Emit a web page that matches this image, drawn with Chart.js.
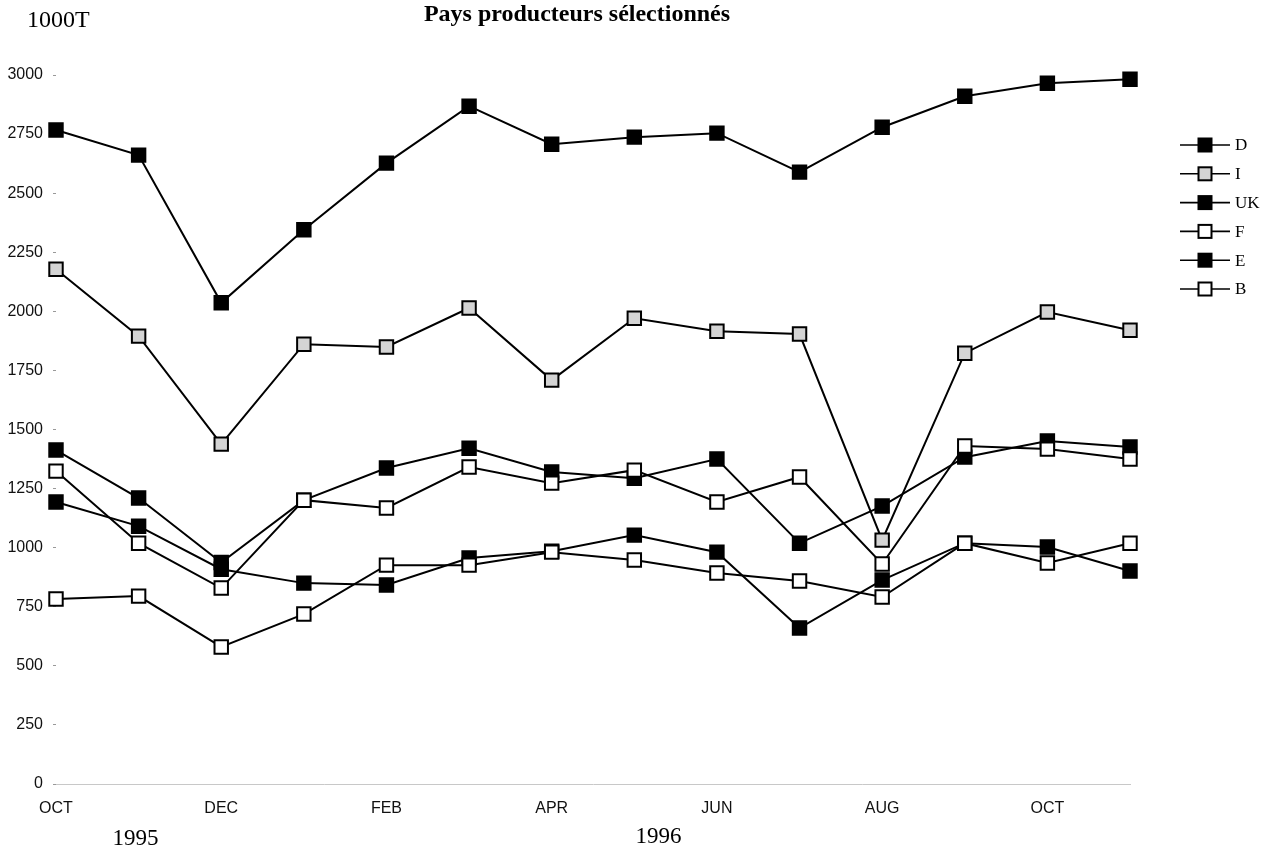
<!DOCTYPE html>
<html>
<head>
<meta charset="utf-8">
<script src="https://cdn.jsdelivr.net/npm/chart.js@4.4.0/dist/chart.umd.min.js"></script>
<style>
  html, body { margin: 0; padding: 0; background: #fff; }
  #wrap { width: 1271px; height: 852px; position: relative; }
</style>
</head>
<body>
<div id="wrap"><canvas id="c" width="1271" height="852"></canvas></div>
<script>
// ---- Data ----
const months = ['OCT','NOV','DEC','JAN','FEB','MAR','APR','MAY','JUN','JUL','AUG','SEP','OCT','NOV'];
const yearLabels = ['1995', '1996'];
const seriesNames = ['D', 'I', 'UK', 'F', 'E', 'B'];
const yTicks = [0, 250, 500, 750, 1000, 1250, 1500, 1750, 2000, 2250, 2500, 2750, 3000];
const unitLabel = '1000T';
const titleText = 'Pays producteurs sélectionnés';

const D  = [2767, 2661, 2036, 2345, 2627, 2868, 2707, 2737, 2754, 2589, 2779, 2910, 2965, 2982];
const I  = [2178, 1895, 1438, 1861, 1849, 2014, 1709, 1971, 1916, 1904, 1032, 1823, 1997, 1920];
const UK = [1413, 1210,  937, 1201, 1337, 1421, 1320, 1294, 1375, 1019, 1176, 1383, 1451, 1426];
const F  = [1324, 1019,  829, 1201, 1168, 1341, 1273, 1328, 1193, 1299,  931, 1430, 1417, 1375];
const E  = [1193, 1091,  909,  850,  842,  956,  985, 1053,  981,  660,  863, 1019, 1003,  901];
const B  = [ 783,  795,  580,  719,  926,  926,  981,  948,  893,  859,  791, 1019,  935, 1019];

// ---- Styles ----
const fills = { D: '#000', I: '#d4d4d4', UK: '#000', F: '#fff', E: '#000', B: '#fff' };
const orders = { D: 1, I: 0, UK: 1, F: 0, E: 1, B: 0 };
const values = { D, I, UK, F, E, B };

const datasets = seriesNames.map(name => ({
  label: name,
  data: values[name],
  borderColor: '#000',
  borderWidth: 2,
  backgroundColor: fills[name],
  pointStyle: 'rect',
  pointRadius: 9.5,
  pointHoverRadius: 9.5,
  pointBackgroundColor: fills[name],
  pointBorderColor: '#000',
  pointBorderWidth: 2,
  tension: 0,
  fill: false,
  clip: false,
  order: orders[name]
}));

const decorPlugin = {
  id: 'decor',
  afterDraw(chart) {
    const ctx = chart.ctx;
    const xs = chart.scales.x;
    ctx.save();
    ctx.fillStyle = '#000';
    // Title
    ctx.font = 'bold 24px "Liberation Serif", "DejaVu Serif", serif';
    ctx.textAlign = 'center';
    ctx.textBaseline = 'alphabetic';
    ctx.fillText(titleText, 577, 21);
    // Unit
    ctx.font = '24px "Liberation Serif", serif';
    ctx.textAlign = 'left';
    ctx.fillText(unitLabel, 27, 27);
    // Years
    ctx.font = '23px "Liberation Serif", serif';
    ctx.textAlign = 'center';
    ctx.fillText(yearLabels[0], (xs.getPixelForValue(0) + xs.getPixelForValue(2)) / 2 - 3, 845);
    ctx.fillText(yearLabels[1], (xs.getPixelForValue(7) + xs.getPixelForValue(8)) / 2 - 17, 843);
    // Legend
    const lx0 = 1180, lx1 = 1230, mx = 1205, y0 = 145, dy = 28.8, side = 13;
    chart.data.datasets.forEach((ds, i) => {
      const y = y0 + i * dy;
      ctx.strokeStyle = '#000';
      ctx.lineWidth = 1.6;
      ctx.beginPath();
      ctx.moveTo(lx0, y);
      ctx.lineTo(lx1, y);
      ctx.stroke();
      ctx.fillStyle = ds.pointBackgroundColor;
      ctx.fillRect(mx - side / 2, y - side / 2, side, side);
      ctx.lineWidth = 2;
      ctx.strokeRect(mx - side / 2, y - side / 2, side, side);
      ctx.fillStyle = '#000';
      ctx.font = '17px "Liberation Serif", serif';
      ctx.textAlign = 'left';
      ctx.textBaseline = 'middle';
      ctx.fillText(ds.label, 1235, y + 1);
    });
    ctx.restore();
  }
};

new Chart(document.getElementById('c'), {
  type: 'line',
  data: { labels: months, datasets },
  options: {
    responsive: false,
    animation: false,
    events: [],
    layout: { padding: { top: 75, right: 141, bottom: 0, left: 0 } },
    plugins: {
      legend: { display: false },
      title: { display: false },
      tooltip: { enabled: false }
    },
    scales: {
      x: {
        type: 'category',
        offset: false,
        grid: { display: false, drawTicks: false },
        border: { display: true, color: '#c8c8c8', width: 1, dash: [2, 4] },
        ticks: {
          autoSkip: false,
          maxRotation: 0,
          padding: 15,
          color: '#111',
          font: { family: '"Liberation Sans", Arial, sans-serif', size: 16 },
          callback: function (v, i) { return i % 2 === 0 ? months[i] : ''; }
        },
        afterFit: s => { s.height = 68; }
      },
      y: {
        min: 0,
        max: 3000,
        afterBuildTicks: s => { s.ticks = yTicks.map(v => ({ value: v })); },
        grid: { display: true, drawOnChartArea: false, drawTicks: true, tickLength: 3, color: '#999', lineWidth: 1 },
        border: { display: false },
        ticks: {
          padding: 10,
          color: '#111',
          font: { family: '"Liberation Sans", Arial, sans-serif', size: 16 },
          callback: v => String(v)
        },
        afterFit: s => { s.width = 56; }
      }
    }
  },
  plugins: [decorPlugin]
});
</script>
</body>
</html>
